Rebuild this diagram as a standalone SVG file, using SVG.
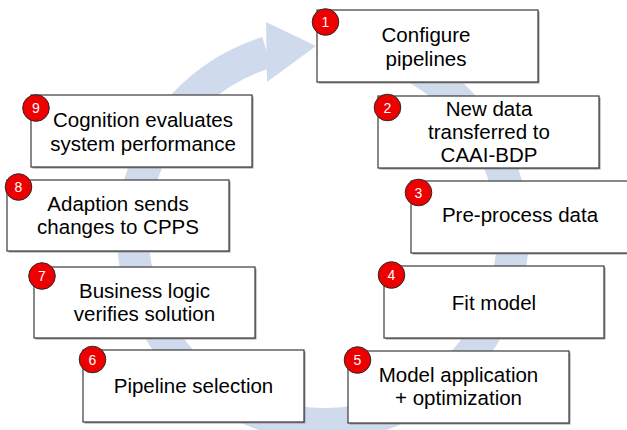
<svg xmlns="http://www.w3.org/2000/svg" width="627" height="430" viewBox="0 0 627 430">
<style>
  .ring{fill:none;stroke:#cfdbec;stroke-width:32}
  .head{fill:#cfdbec}
  .shadow{fill:#9a9a9a}
  .box{fill:#ffffff;stroke:#3a3a3a;stroke-width:1.2}
  .lbl{font-family:"Liberation Sans",Arial,sans-serif;font-size:20.5px;fill:#000;text-anchor:middle}
  .badge{fill:#ee0000;stroke:#2a2a2a;stroke-width:1}
  .num{font-family:"Liberation Sans",Arial,sans-serif;font-size:14px;fill:#fff;text-anchor:middle}
</style>
<rect width="627" height="430" fill="#ffffff"/>
<g id="connectors">
  <path class="ring" d="M403.3,61.8 A190,190 0 1 1 267,52.4"/>
  <polygon class="head" points="266,22 316,46 267,82"/>
</g>
<g id="node1">
  <rect class="shadow" x="318.5" y="11.5" width="221" height="72"/>
  <rect class="box" x="317" y="10" width="221" height="72"/>
  <text class="lbl" x="426" y="41.5">Configure</text>
  <text class="lbl" x="426" y="66">pipelines</text>
  <circle class="badge" cx="325.5" cy="22" r="13.3"/>
  <text class="num" x="325.5" y="27">1</text>
</g>
<g id="node2">
  <rect class="shadow" x="379.5" y="97.5" width="221" height="72"/>
  <rect class="box" x="378" y="96" width="221" height="72"/>
  <text class="lbl" x="489" y="116">New data</text>
  <text class="lbl" x="489" y="139">transferred to</text>
  <text class="lbl" x="489" y="162">CAAI-BDP</text>
  <circle class="badge" cx="387.5" cy="107.5" r="13.3"/>
  <text class="num" x="387.5" y="112.5">2</text>
</g>
<g id="node3">
  <rect class="shadow" x="412.5" y="182.5" width="221" height="72"/>
  <rect class="box" x="411" y="181" width="221" height="72"/>
  <text class="lbl" x="520" y="222">Pre-process data</text>
  <circle class="badge" cx="418.5" cy="192.5" r="13.3"/>
  <text class="num" x="418.5" y="197.5">3</text>
</g>
<g id="node4">
  <rect class="shadow" x="385.5" y="267.5" width="220" height="72"/>
  <rect class="box" x="384" y="266" width="220" height="72"/>
  <text class="lbl" x="494" y="309.5">Fit model</text>
  <circle class="badge" cx="391.5" cy="275" r="13.3"/>
  <text class="num" x="391.5" y="280">4</text>
</g>
<g id="node5">
  <rect class="shadow" x="349.5" y="352.5" width="221" height="72"/>
  <rect class="box" x="348" y="351" width="221" height="72"/>
  <text class="lbl" x="458.5" y="381.5">Model application</text>
  <text class="lbl" x="458.5" y="404.5">+ optimization</text>
  <circle class="badge" cx="357.5" cy="360" r="13.3"/>
  <text class="num" x="357.5" y="365">5</text>
</g>
<g id="node6">
  <rect class="shadow" x="84.5" y="351.5" width="221" height="72"/>
  <rect class="box" x="83" y="350" width="221" height="72"/>
  <text class="lbl" x="193.5" y="392.5">Pipeline selection</text>
  <circle class="badge" cx="92.5" cy="359.5" r="13.3"/>
  <text class="num" x="92.5" y="364.5">6</text>
</g>
<g id="node7">
  <rect class="shadow" x="35.5" y="268.5" width="221" height="71"/>
  <rect class="box" x="34" y="267" width="221" height="71"/>
  <text class="lbl" x="144.5" y="297.5">Business logic</text>
  <text class="lbl" x="144.5" y="320.5">verifies solution</text>
  <circle class="badge" cx="42" cy="276" r="13.3"/>
  <text class="num" x="42" y="281">7</text>
</g>
<g id="node8">
  <rect class="shadow" x="8.5" y="181.5" width="222" height="71"/>
  <rect class="box" x="7" y="180" width="222" height="71"/>
  <text class="lbl" x="118" y="211">Adaption sends</text>
  <text class="lbl" x="118" y="234">changes to CPPS</text>
  <circle class="badge" cx="18.5" cy="187" r="13.3"/>
  <text class="num" x="18.5" y="192">8</text>
</g>
<g id="node9">
  <rect class="shadow" x="32.5" y="96.5" width="221" height="72"/>
  <rect class="box" x="31" y="95" width="221" height="72"/>
  <text class="lbl" x="143" y="127">Cognition evaluates</text>
  <text class="lbl" x="143" y="151">system performance</text>
  <circle class="badge" cx="36" cy="108" r="13.3"/>
  <text class="num" x="36" y="113">9</text>
</g>
</svg>
